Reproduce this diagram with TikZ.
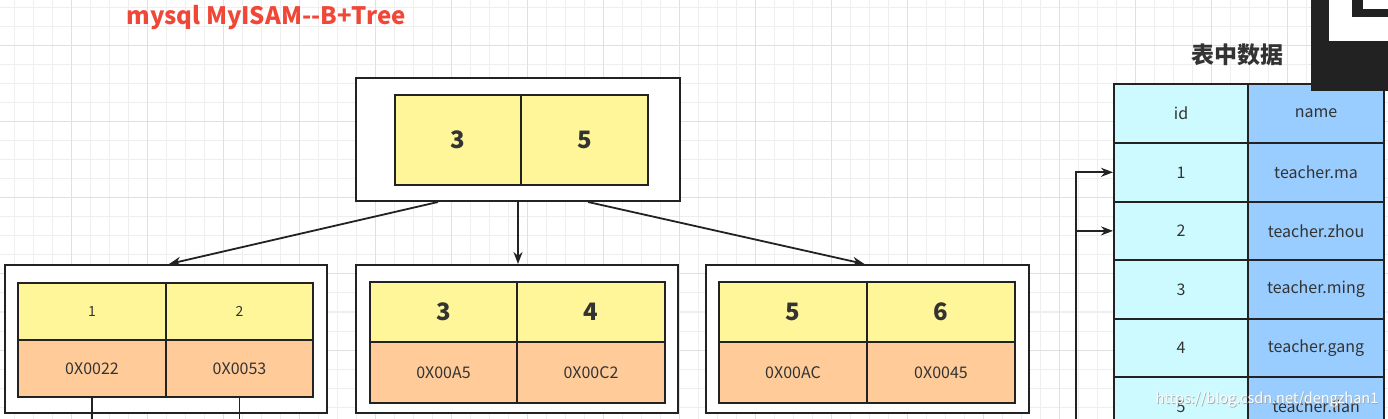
\documentclass[tikz,border=0pt]{standalone}
\usepackage{fontspec}
\setmainfont{Noto Sans CJK SC}
\newfontfamily\cjk{Noto Sans CJK SC}
\usetikzlibrary{arrows.meta,calc}
\definecolor{gridminor}{RGB}{238,238,238}
\definecolor{gridmajor}{RGB}{224,224,224}
\definecolor{titlered}{RGB}{240,72,56}
\definecolor{cellyellow}{RGB}{255,246,153}
\definecolor{cellorange}{RGB}{255,204,153}
\definecolor{cellcyan}{RGB}{204,250,255}
\definecolor{cellblue}{RGB}{153,204,255}
\definecolor{ink}{RGB}{34,34,34}
\definecolor{txt}{RGB}{51,51,51}
\begin{document}
\begin{tikzpicture}[x=1pt,y=-1pt,
  outerbox/.style={draw=ink,line width=2pt,fill=white,inner sep=0pt,anchor=north west},
  cellbase/.style={draw=ink,line width=2pt,inner sep=0pt,anchor=north west,text=txt},
  ycell/.style={cellbase,fill=cellyellow},
  ocell/.style={cellbase,fill=cellorange},
  ccell/.style={cellbase,fill=cellcyan},
  bcell/.style={cellbase,fill=cellblue},
  bignum/.style={font=\fontsize{24}{27}\selectfont\bfseries},
  smallnum/.style={font=\fontsize{14}{16}\selectfont},
  smalltxt/.style={font=\fontsize{16}{18}\selectfont},
  arr/.style={draw=ink,line width=1.8pt,-{Stealth[length=12pt,width=9pt]}},
  plain/.style={draw=ink,line width=1.8pt}
]
\useasboundingbox (0,0) rectangle (1388,419);
\begin{scope}
\clip (0,0) rectangle (1388,419);
\fill[white] (0,0) rectangle (1388,419);
% grid
\foreach \x in {0,...,73} {\draw[gridminor,line width=1pt] ({14+19*\x},0) -- ({14+19*\x},419);}
\foreach \y in {0,...,22} {\draw[gridminor,line width=1pt] (0,{8+19*\y}) -- (1388,{8+19*\y});}
\foreach \x in {0,...,18} {\draw[gridmajor,line width=1pt] ({-5+76*\x},0) -- ({-5+76*\x},419);}
\foreach \y in {0,...,6} {\draw[gridmajor,line width=1pt] (0,{46+76*\y}) -- (1388,{46+76*\y});}

% title
\node[text=titlered,font=\fontsize{24}{27}\selectfont\bfseries] (title) at (266,18) {mysql MyISAM-{}-B+Tree};

% root
\node[outerbox,minimum width=324pt,minimum height=123pt] (root) at (355,77) {};
\node[ycell,bignum,minimum width=126pt,minimum height=90pt] (r1) at (394,94) {3};
\node[ycell,bignum,minimum width=127pt,minimum height=90pt] (r2) at (520,94) {5};

% leaf 1
\node[outerbox,minimum width=322pt,minimum height=148pt] (leafa) at (4,264) {};
\node[ycell,smallnum,minimum width=148pt,minimum height=57pt] (la1) at (17,282) {1};
\node[ycell,smallnum,minimum width=147pt,minimum height=57pt] (la2) at (165,282) {2};
\node[ocell,smalltxt,minimum width=148pt,minimum height=57pt] (la3) at (17,339) {0X0022};
\node[ocell,smalltxt,minimum width=147pt,minimum height=57pt] (la4) at (165,339) {0X0053};

% leaf 2
\node[outerbox,minimum width=322pt,minimum height=148pt] (leafb) at (355,264) {};
\node[ycell,bignum,minimum width=147pt,minimum height=60pt] (lb1) at (369,281) {3};
\node[ycell,bignum,minimum width=148pt,minimum height=60pt] (lb2) at (516,281) {4};
\node[ocell,smalltxt,minimum width=147pt,minimum height=61pt] (lb3) at (369,341) {0X00A5};
\node[ocell,smalltxt,minimum width=148pt,minimum height=61pt] (lb4) at (516,341) {0X00C2};

% leaf 3
\node[outerbox,minimum width=323pt,minimum height=148pt] (leafc) at (705,264) {};
\node[ycell,bignum,minimum width=148pt,minimum height=60pt] (lc1) at (718,281) {5};
\node[ycell,bignum,minimum width=148pt,minimum height=60pt] (lc2) at (866,281) {6};
\node[ocell,smalltxt,minimum width=148pt,minimum height=61pt] (lc3) at (718,341) {0X00AC};
\node[ocell,smalltxt,minimum width=148pt,minimum height=61pt] (lc4) at (866,341) {0X0045};

% tree arrows
\draw[arr] ($(root.south)+(-80,0)$) -- ($(leafa.north)+(3,0)$);
\draw[arr] (root.south) -- (root.south |- leafb.north);
\draw[arr] ($(root.south)+(70,0)$) -- ($(leafc.north)+(-3,0)$);

% leaf 1 down lines
\coordinate (bota) at (92,425);
\coordinate (botb) at (238,425);
\draw[plain] (la3.south) -- (la3.south |- bota);
\draw[plain] (la4.south) -- (la4.south |- botb);

% table
\node[font=\cjk\fontsize{23}{26}\selectfont\bfseries,text=txt] (ttitle) at (1237,55) {表中数据};
\node[ccell,smalltxt,minimum width=134pt,minimum height=59pt] (h1) at (1113,83) {id};
\node[bcell,smalltxt,minimum width=136pt,minimum height=59pt] (h2) at (1247,83) {name};
\node[ccell,smalltxt,minimum width=134pt,minimum height=58.6pt] (t1a) at (1113,142) {1};
\node[bcell,smalltxt,minimum width=136pt,minimum height=58.6pt] (t1b) at (1247,142) {teacher.ma};
\node[ccell,smalltxt,minimum width=134pt,minimum height=58.6pt] (t2a) at (1113,200.6) {2};
\node[bcell,smalltxt,minimum width=136pt,minimum height=58.6pt] (t2b) at (1247,200.6) {teacher.zhou};
\node[ccell,smalltxt,minimum width=134pt,minimum height=58.6pt] (t3a) at (1113,259.2) {3};
\node[bcell,smalltxt,minimum width=136pt,minimum height=58.6pt] (t3b) at (1247,259.2) {teacher.ming};
\node[ccell,smalltxt,minimum width=134pt,minimum height=58.6pt] (t4a) at (1113,317.8) {4};
\node[bcell,smalltxt,minimum width=136pt,minimum height=58.6pt] (t4b) at (1247,317.8) {teacher.gang};
\node[ccell,smalltxt,minimum width=134pt,minimum height=58.6pt] (t5a) at (1113,376.4) {5};
\node[bcell,smalltxt,minimum width=136pt,minimum height=58.6pt] (t5b) at (1247,376.4) {teacher.lian};

% table pointers
\coordinate (tbot) at (1076,425);
\draw[arr] (tbot) |- (t1a.west);
\draw[arr] (tbot) |- (t2a.west);

% overlay in the corner
\fill[ink] (1311,-2) rectangle (1390,91);
\fill[white] (1329,-2) rectangle (1390,41);
\fill[ink] (1352,-2) rectangle (1390,17);
\fill[white] (1363,-2) rectangle (1390,9);

% watermark
\node[text=gray!70,font=\fontsize{14.5}{16}\selectfont] (wmshadow) at (1267.7,400.7) {https://blog.csdn.net/dengzhan1};
\node[text=white,font=\fontsize{14.5}{16}\selectfont] (wm) at (1267,400) {https://blog.csdn.net/dengzhan1};
\end{scope}
\end{tikzpicture}
\end{document}
